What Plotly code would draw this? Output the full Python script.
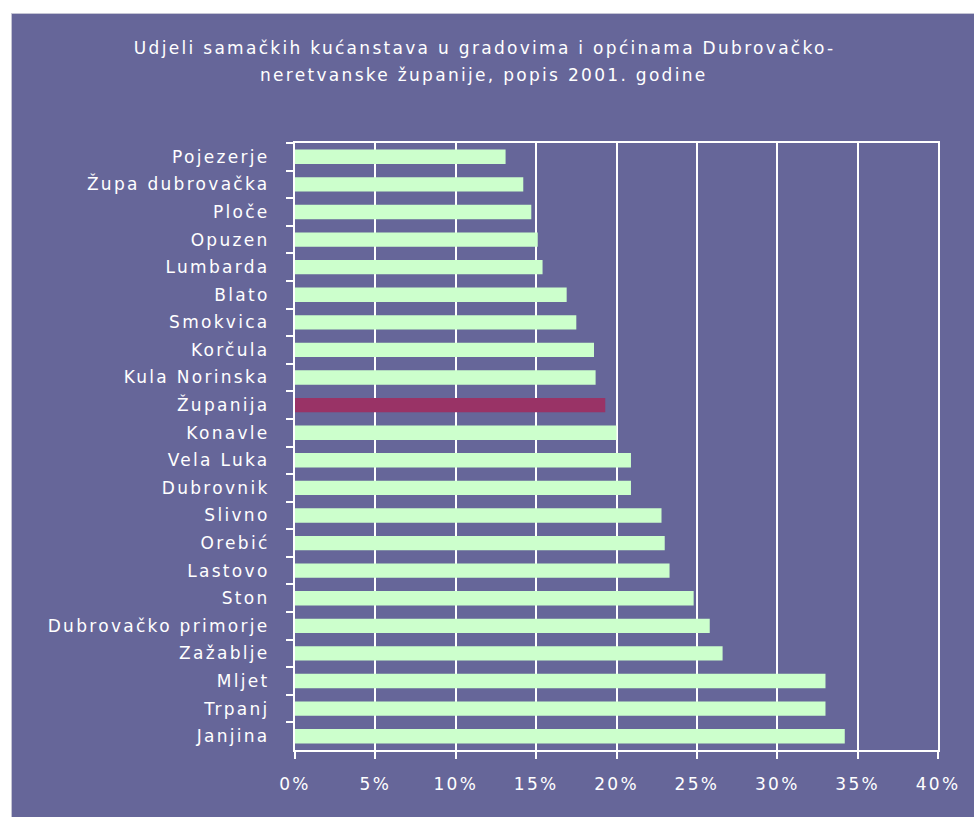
import plotly.graph_objects as go

categories = ["Pojezerje", "Župa dubrovačka", "Ploče", "Opuzen", "Lumbarda", "Blato",
              "Smokvica", "Korčula", "Kula Norinska", "Županija", "Konavle", "Vela Luka",
              "Dubrovnik", "Slivno", "Orebić", "Lastovo", "Ston", "Dubrovačko primorje",
              "Zažablje", "Mljet", "Trpanj", "Janjina"]
shares = [0.131, 0.142, 0.147, 0.151, 0.154, 0.169, 0.175, 0.186, 0.187, 0.193, 0.200,
          0.209, 0.209, 0.228, 0.230, 0.233, 0.248, 0.258, 0.266, 0.330, 0.330, 0.342]
highlight = "Županija"
x_ticks = [0, 0.05, 0.10, 0.15, 0.20, 0.25, 0.30, 0.35, 0.40]
x_tick_labels = ["0%", "5%", "10%", "15%", "20%", "25%", "30%", "35%", "40%"]
title_lines = ["Udjeli samačkih kućanstava u gradovima i općinama Dubrovačko-",
               "neretvanske županije, popis 2001. godine"]

BG = "#666699"
GREEN = "#CCFFCC"
RED = "#993366"
FONT = "DejaVu Sans"

colors = [RED if c == highlight else GREEN for c in categories]

fig = go.Figure(go.Bar(
    x=shares, y=categories, orientation="h",
    marker=dict(color=colors, line=dict(width=0)),
    hoverinfo="x+y",
))

W, H = 974, 817
L, R, T, B = 295, 36, 143, 67
pw, ph = W - L - R, H - T - B

def px_to_paper_x(px):
    return (px - L) / pw

def py_to_paper_y(py):
    return (H - B - py) / ph

fig.add_shape(type="rect", xref="paper", yref="paper",
              x0=px_to_paper_x(11.5), x1=px_to_paper_x(980),
              y0=py_to_paper_y(830), y1=py_to_paper_y(13.5),
              fillcolor=BG, line=dict(color="#c4c4d4", width=1), layer="below")

for i, line in enumerate(title_lines):
    fig.add_annotation(text=line, xref="paper", yref="paper",
                       x=px_to_paper_x(484), y=py_to_paper_y(48 + 27 * i),
                       xanchor="center", yanchor="middle", showarrow=False,
                       font=dict(family=FONT, size=17, color="white"))

fig.update_layout(
    width=W, height=H,
    margin=dict(l=L, r=R, t=T, b=B, pad=0),
    paper_bgcolor="white",
    plot_bgcolor=BG,
    bargap=0.48,
    showlegend=False,
    font=dict(family=FONT, size=17, color="white"),
)

fig.update_xaxes(
    range=[0, 0.40], tickvals=x_ticks, ticktext=x_tick_labels,
    showgrid=True, gridcolor="white", gridwidth=2,
    showline=True, linecolor="white", linewidth=2, mirror=True,
    ticks="outside", ticklen=7, tickcolor="white", tickwidth=2,
    ticklabelstandoff=11, zeroline=False,
    tickfont=dict(family=FONT, size=17, color="white"),
)
fig.update_yaxes(
    autorange="reversed", categoryorder="array", categoryarray=categories,
    showgrid=False,
    showline=True, linecolor="white", linewidth=2, mirror=True,
    ticks="outside", ticklen=7, tickcolor="white", tickwidth=2,
    tickson="boundaries", ticklabelstandoff=20,
    tickfont=dict(family=FONT, size=17, color="white"),
)

post = ("document.body.style.margin='0';"
        "document.querySelectorAll('.main-svg text').forEach(t=>t.style.letterSpacing='2.3px');")
fig.write_html("out.html", post_script=post, config=dict(displayModeBar=False))
